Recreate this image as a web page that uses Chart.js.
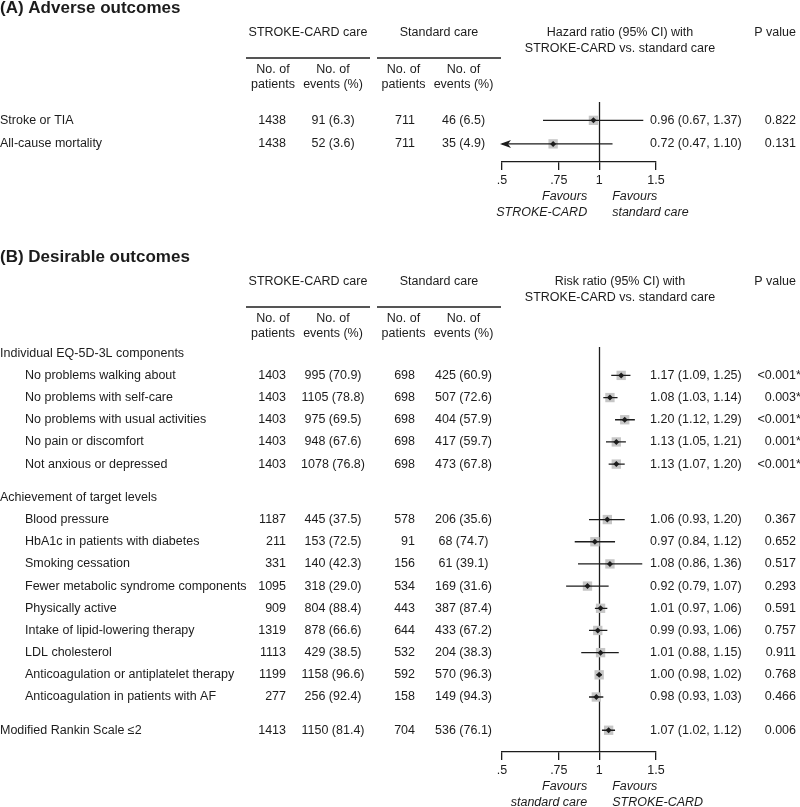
<!DOCTYPE html>
<html>
<head>
<meta charset="utf-8">
<script src="https://cdn.jsdelivr.net/npm/chart.js@4.4.1/dist/chart.umd.min.js"></script>
<style>
  html, body { margin: 0; padding: 0; background: #fff; }
  #wrap { position: relative; width: 800px; height: 807px; }
  #wrap canvas { position: absolute; left: 0; top: 0; }
</style>
</head>
<body>
<div id="wrap">
  <canvas id="chartA" width="800" height="807"></canvas>
  <canvas id="chartB" width="800" height="807"></canvas>
</div>
<script>
// ---------- (A) Adverse outcomes ----------
const labelsA = ["Stroke or TIA", "All-cause mortality"];
const scPatientsA = [1438, 1438];
const scEventsA = [91, 52];
const scPctA = [6.3, 3.6];
const stPatientsA = [711, 711];
const stEventsA = [46, 35];
const stPctA = [6.5, 4.9];
const hrA = [0.96, 0.72];
const hrLoA = [0.67, 0.47];
const hrHiA = [1.37, 1.10];
const pA = ["0.822", "0.131"];

// ---------- (B) Desirable outcomes ----------
const groupNamesB = ["Individual EQ-5D-3L components", "Achievement of target levels", null];
const groupOfB = [0, 0, 0, 0, 0, 1, 1, 1, 1, 1, 1, 1, 1, 1, 2];
const labelsB = [
  "No problems walking about", "No problems with self-care", "No problems with usual activities",
  "No pain or discomfort", "Not anxious or depressed",
  "Blood pressure", "HbA1c in patients with diabetes", "Smoking cessation",
  "Fewer metabolic syndrome components", "Physically active", "Intake of lipid-lowering therapy",
  "LDL cholesterol", "Anticoagulation or antiplatelet therapy", "Anticoagulation in patients with AF",
  "Modified Rankin Scale \u22642"
];
const scPatientsB = [1403, 1403, 1403, 1403, 1403, 1187, 211, 331, 1095, 909, 1319, 1113, 1199, 277, 1413];
const scEventsB = [995, 1105, 975, 948, 1078, 445, 153, 140, 318, 804, 878, 429, 1158, 256, 1150];
const scPctB = [70.9, 78.8, 69.5, 67.6, 76.8, 37.5, 72.5, 42.3, 29.0, 88.4, 66.6, 38.5, 96.6, 92.4, 81.4];
const stPatientsB = [698, 698, 698, 698, 698, 578, 91, 156, 534, 443, 644, 532, 592, 158, 704];
const stEventsB = [425, 507, 404, 417, 473, 206, 68, 61, 169, 387, 433, 204, 570, 149, 536];
const stPctB = [60.9, 72.6, 57.9, 59.7, 67.8, 35.6, 74.7, 39.1, 31.6, 87.4, 67.2, 38.3, 96.3, 94.3, 76.1];
const rrB = [1.17, 1.08, 1.20, 1.13, 1.13, 1.06, 0.97, 1.08, 0.92, 1.01, 0.99, 1.01, 1.00, 0.98, 1.07];
const rrLoB = [1.09, 1.03, 1.12, 1.05, 1.07, 0.93, 0.84, 0.86, 0.79, 0.97, 0.93, 0.88, 0.98, 0.93, 1.02];
const rrHiB = [1.25, 1.14, 1.29, 1.21, 1.20, 1.20, 1.12, 1.36, 1.07, 1.06, 1.06, 1.15, 1.02, 1.03, 1.12];
const pB = ["<0.001*", "0.003*", "<0.001*", "0.001*", "<0.001*", "0.367", "0.652", "0.517", "0.293",
  "0.591", "0.757", "0.911", "0.768", "0.466", "0.006"];

const tickVals = [0.5, 0.75, 1, 1.5];
const tickLabels = [".5", ".75", "1", "1.5"];

const FAM = '"Liberation Sans", Arial, Helvetica, sans-serif';
const FONT = "12.5px " + FAM;
const INK = "#1c1c1c";

// row positions in "row units" (header, rows, half-row gap between groups)
let rowY_B = [], headY_B = [];
(function () {
  let v = 0, last = -1;
  groupOfB.forEach((g, i) => {
    if (g !== last) {
      if (last !== -1) v += 0.5;
      if (groupNamesB[g]) { headY_B.push({ text: groupNamesB[g], y: v }); v += 1; }
      last = g;
    }
    rowY_B.push(v);
    v += 1;
  });
})();
const rowY_A = labelsA.map((_, i) => i);

function txt(ctx, s, x, y, align, font) {
  ctx.font = font || FONT;
  ctx.textAlign = align || "left";
  ctx.textBaseline = "middle";
  ctx.fillStyle = INK;
  ctx.fillText(s, x, y);
}
function hline(ctx, x1, x2, y) {
  ctx.beginPath();
  ctx.moveTo(x1, y); ctx.lineTo(x2, y);
  ctx.lineWidth = 1.3; ctx.strokeStyle = INK; ctx.stroke();
}

function makeForest(id, cfg) {
  const n = cfg.est.length;
  const pts = cfg.est.map((v, i) => ({ x: v, y: cfg.rowY[i] }));
  const ci = [];
  for (let i = 0; i < n; i++) {
    ci.push({ x: cfg.lo[i], y: cfg.rowY[i] }, { x: cfg.hi[i], y: cfg.rowY[i] }, { x: 1, y: null });
  }

  const tablePlugin = {
    id: "table" + id,
    beforeDatasetsDraw(chart) {
      const { ctx, chartArea: a, scales: { x } } = chart;
      const x1 = Math.round(x.getPixelForValue(1)) + 0.5;
      ctx.save();
      ctx.beginPath();
      ctx.moveTo(x1, a.top); ctx.lineTo(x1, a.bottom);
      ctx.lineWidth = 1.3; ctx.strokeStyle = INK; ctx.stroke();
      ctx.restore();
    },
    afterDraw(chart) {
      const { ctx, chartArea: a, scales: { x, y } } = chart;
      const o = cfg.top;
      ctx.save();
      txt(ctx, cfg.title, 0, o + 8, "left", "bold 17px " + FAM);
      txt(ctx, "STROKE-CARD care", 308, o + 33, "center");
      txt(ctx, "Standard care", 439, o + 33, "center");
      txt(ctx, cfg.ratioName + " (95% CI) with", 620, o + 33, "center");
      txt(ctx, "STROKE-CARD vs. standard care", 620, o + 49, "center");
      txt(ctx, "P value", 796, o + 33, "right");
      hline(ctx, 246, 370, o + 58);
      hline(ctx, 377, 501, o + 58);
      [273, 403.5].forEach(cx => {
        txt(ctx, "No. of", cx, o + 70, "center");
        txt(ctx, "patients", cx, o + 85, "center");
      });
      [333, 463.5].forEach(cx => {
        txt(ctx, "No. of", cx, o + 70, "center");
        txt(ctx, "events (%)", cx, o + 85, "center");
      });

      (cfg.heads || []).forEach(h => txt(ctx, h.text, 0, y.getPixelForValue(h.y), "left"));
      for (let i = 0; i < n; i++) {
        const py = y.getPixelForValue(cfg.rowY[i]);
        txt(ctx, cfg.labels[i], cfg.indent[i], py, "left");
        txt(ctx, String(cfg.scN[i]), 286, py, "right");
        txt(ctx, cfg.scE[i] + " (" + cfg.scP[i].toFixed(1) + ")", 333, py, "center");
        txt(ctx, String(cfg.stN[i]), 415, py, "right");
        txt(ctx, cfg.stE[i] + " (" + cfg.stP[i].toFixed(1) + ")", 463.5, py, "center");
        txt(ctx, cfg.est[i].toFixed(2) + " (" + cfg.lo[i].toFixed(2) + ", " + cfg.hi[i].toFixed(2) + ")", 650, py, "left");
        const star = cfg.p[i].endsWith("*");
        txt(ctx, cfg.p[i].replace("*", ""), 796, py, "right");
        if (star) txt(ctx, "*", 796, py, "left");
        // arrow for a CI that runs past the axis
        if (cfg.lo[i] < x.min) {
          const tip = x.getPixelForValue(x.min) - 2;
          ctx.beginPath();
          ctx.moveTo(tip, py);
          ctx.lineTo(tip + 11, py - 4);
          ctx.lineTo(tip + 8, py);
          ctx.lineTo(tip + 11, py + 4);
          ctx.closePath();
          ctx.fillStyle = INK; ctx.fill();
        }
      }
      const fy = a.bottom + 35;
      const x1 = x.getPixelForValue(1);
      const it = "italic 12.5px " + FAM;
      txt(ctx, "Favours", x1 - 12, fy, "right", it);
      txt(ctx, cfg.favLeft, x1 - 12, fy + 15.5, "right", it);
      txt(ctx, "Favours", x1 + 13, fy, "left", it);
      txt(ctx, cfg.favRight, x1 + 13, fy + 15.5, "left", it);
      ctx.restore();
    }
  };

  return new Chart(document.getElementById(id), {
    type: "scatter",
    data: {
      datasets: [
        { data: pts, pointStyle: "rectRot", pointRadius: 3, backgroundColor: INK, borderWidth: 0 },
        { data: ci, showLine: true, spanGaps: false, pointRadius: 0, borderColor: INK, borderWidth: 1.3 },
        { data: pts, pointStyle: "rect", pointRadius: 6.6, backgroundColor: "#c6c6c6", borderWidth: 0 }
      ]
    },
    options: {
      responsive: false,
      animation: false,
      events: [],
      layout: { padding: cfg.pad },
      plugins: { legend: { display: false }, tooltip: { enabled: false } },
      scales: {
        x: {
          type: "logarithmic",
          min: 0.5, max: 1.5,
          afterBuildTicks: s => { s.ticks = tickVals.map(v => ({ value: v })); },
          afterFit: s => { s.height = 30; },
          border: { display: true, color: INK, width: 1.3 },
          grid: { display: true, drawOnChartArea: false, drawTicks: true, tickLength: 8, color: INK, lineWidth: 1.3 },
          ticks: {
            autoSkip: false, maxRotation: 0, padding: 3, color: INK,
            font: { family: FAM, size: 12.5 },
            callback: v => tickLabels[tickVals.indexOf(v)]
          }
        },
        y: { type: "linear", reverse: true, min: cfg.yMin, max: cfg.yMax, display: false }
      }
    },
    plugins: [tablePlugin]
  });
}

makeForest("chartA", {
  title: "(A) Adverse outcomes", top: 0, ratioName: "Hazard ratio",
  labels: labelsA, indent: labelsA.map(() => 0), rowY: rowY_A,
  scN: scPatientsA, scE: scEventsA, scP: scPctA, stN: stPatientsA, stE: stEventsA, stP: stPctA,
  est: hrA, lo: hrLoA, hi: hrHiA, p: pA,
  favLeft: "STROKE-CARD", favRight: "standard care",
  yMin: -0.78, yMax: 1.77,
  pad: { left: 502, right: 144, top: 102, bottom: 615 }
});

makeForest("chartB", {
  title: "(B) Desirable outcomes", top: 249, ratioName: "Risk ratio",
  labels: labelsB, indent: groupOfB.map(g => groupNamesB[g] ? 25 : 0), rowY: rowY_B, heads: headY_B,
  scN: scPatientsB, scE: scEventsB, scP: scPctB, stN: stPatientsB, stE: stEventsB, stP: stPctB,
  est: rrB, lo: rrLoB, hi: rrHiB, p: pB,
  favLeft: "standard care", favRight: "STROKE-CARD",
  yMin: -0.28, yMax: 17.98,
  pad: { left: 502, right: 144, top: 347, bottom: 25 }
});
</script>
</body>
</html>
